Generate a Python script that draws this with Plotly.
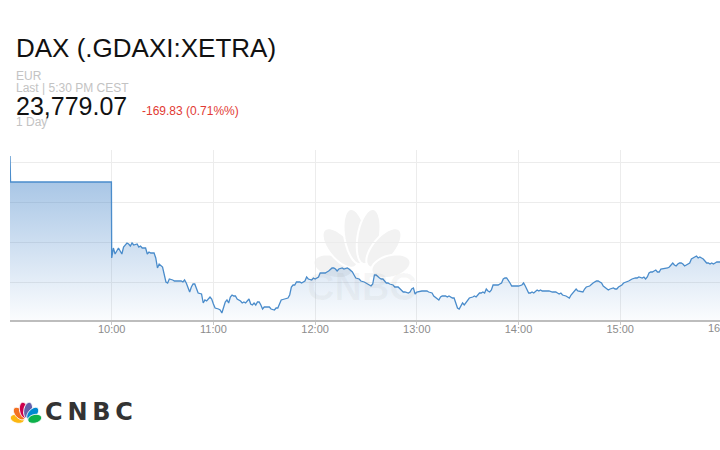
import numpy as np
import plotly.graph_objects as go

DATE = "2025-07-30"

times = [
    "09:00:00", "09:00:20", "09:59:50",
    "10:00", "10:01", "10:02", "10:04", "10:05", "10:06", "10:07", "10:09", "10:10", "10:11",
    "10:12", "10:13", "10:15", "10:16", "10:17", "10:18", "10:20", "10:21", "10:22", "10:23",
    "10:25", "10:26", "10:27", "10:28", "10:30", "10:31", "10:32", "10:33", "10:34", "10:36",
    "10:37", "10:39", "10:41", "10:42", "10:43", "10:44", "10:45", "10:46", "10:47", "10:48",
    "10:49", "10:50", "10:51", "10:53", "10:54", "10:55", "10:56", "10:58", "10:59",
    "11:00", "11:01", "11:03", "11:04", "11:05", "11:06", "11:07", "11:08", "11:09", "11:10",
    "11:11", "11:12", "11:13", "11:14", "11:16", "11:17", "11:18", "11:19", "11:20", "11:21",
    "11:22", "11:23", "11:24", "11:25", "11:26", "11:27", "11:28", "11:29", "11:30", "11:31",
    "11:33", "11:34", "11:36", "11:37", "11:38", "11:39", "11:40", "11:42", "11:44", "11:45",
    "11:46", "11:47", "11:48", "11:49", "11:51", "11:52", "11:53", "11:54", "11:55", "11:56",
    "11:58", "11:59",
    "12:00", "12:01", "12:02", "12:03", "12:04", "12:06", "12:07", "12:08", "12:10", "12:11",
    "12:12", "12:13", "12:14", "12:16", "12:17", "12:19", "12:20", "12:22", "12:23", "12:24",
    "12:26", "12:27", "12:29", "12:30", "12:31", "12:33", "12:34", "12:35", "12:36", "12:37",
    "12:38", "12:39", "12:40", "12:41", "12:42", "12:43", "12:44", "12:46", "12:47", "12:49",
    "12:50", "12:52", "12:53", "12:55", "12:56", "12:57", "12:58", "12:59",
    "13:00", "13:02", "13:03", "13:04", "13:06", "13:07", "13:09", "13:10", "13:12", "13:13",
    "13:14", "13:15", "13:17", "13:18", "13:19", "13:21", "13:22", "13:23", "13:24", "13:25",
    "13:26", "13:27", "13:28", "13:29", "13:30", "13:31", "13:33", "13:34", "13:35", "13:36",
    "13:37", "13:38", "13:39", "13:40", "13:41", "13:42", "13:43", "13:44", "13:45", "13:46",
    "13:48", "13:49", "13:50", "13:51", "13:52", "13:53", "13:54", "13:55", "13:56", "13:58",
    "13:59",
    "14:00", "14:02", "14:03", "14:04", "14:05", "14:06", "14:07", "14:08", "14:09", "14:10",
    "14:11", "14:12", "14:13", "14:14", "14:16", "14:18", "14:20", "14:22", "14:23", "14:24",
    "14:25", "14:26", "14:28", "14:30", "14:31", "14:32", "14:33", "14:34", "14:35", "14:37",
    "14:38", "14:39", "14:40", "14:42", "14:43", "14:44", "14:46", "14:47", "14:48", "14:49",
    "14:50", "14:52", "14:53", "14:54", "14:56", "14:57", "14:58", "14:59",
    "15:01", "15:02", "15:04", "15:05", "15:06", "15:07", "15:09", "15:10", "15:11", "15:13",
    "15:14", "15:15", "15:16", "15:17", "15:18", "15:19", "15:20", "15:21", "15:22", "15:23",
    "15:24", "15:25", "15:26", "15:27", "15:28", "15:29", "15:30", "15:31", "15:32", "15:33",
    "15:34", "15:35", "15:36", "15:37", "15:38", "15:39", "15:40", "15:41", "15:42", "15:43",
    "15:44", "15:45", "15:46", "15:47", "15:48", "15:49", "15:50", "15:51", "15:52", "15:53",
    "15:54", "15:55", "15:56", "15:57", "15:58", "15:59",
]

values = [
    24115, 24050, 24050,
    23860, 23885, 23870, 23885, 23877.5, 23870, 23887.5, 23897.5, 23895, 23890,
    23897.5, 23892.5, 23895, 23887.5, 23890, 23885, 23885, 23870, 23875, 23872.5,
    23872.5, 23860, 23835, 23845, 23837.5, 23817.5, 23800, 23797.5, 23807.5, 23805,
    23802.5, 23802.5, 23802.5, 23800, 23805, 23797.5, 23787.5, 23775, 23787.5, 23795,
    23795, 23785, 23772.5, 23770, 23747.5, 23755, 23752.5, 23762.5, 23757.5,
    23745, 23735, 23732.5, 23730, 23722.5, 23735, 23750, 23755, 23747.5, 23762.5,
    23767.5, 23765, 23765, 23757.5, 23752.5, 23747.5, 23750, 23747.5, 23752.5, 23757.5,
    23745, 23742.5, 23747.5, 23742.5, 23750, 23750, 23742.5, 23732.5, 23737.5, 23737.5,
    23737.5, 23732.5, 23730, 23735, 23735, 23745, 23755, 23757.5, 23760, 23767.5,
    23787.5, 23792.5, 23792.5, 23800, 23800, 23797.5, 23800, 23802.5, 23812.5, 23807.5,
    23805, 23810,
    23807.5, 23810, 23812.5, 23822.5, 23822.5, 23822.5, 23825, 23827.5, 23835, 23835,
    23832.5, 23827.5, 23832.5, 23835, 23832.5, 23835, 23832.5, 23825, 23817.5, 23810,
    23807.5, 23802.5, 23800, 23797.5, 23795, 23790, 23795, 23817.5, 23817.5, 23812.5,
    23810, 23807.5, 23807.5, 23802.5, 23797.5, 23797.5, 23795, 23792.5, 23787.5, 23787.5,
    23782.5, 23775, 23775, 23772.5, 23775, 23782.5, 23785, 23770,
    23775, 23777.5, 23777.5, 23777.5, 23777.5, 23775, 23772.5, 23765, 23757.5, 23755,
    23762.5, 23765, 23765, 23762.5, 23765, 23760, 23760, 23747.5, 23735, 23732.5,
    23740, 23747.5, 23742.5, 23747.5, 23755, 23760, 23762.5, 23765, 23762.5, 23767.5,
    23772.5, 23772.5, 23775, 23772.5, 23782.5, 23777.5, 23775, 23780, 23792.5, 23792.5,
    23792.5, 23795, 23797.5, 23807.5, 23810, 23810, 23805, 23797.5, 23790, 23790,
    23790,
    23790, 23792.5, 23797.5, 23790, 23780, 23772.5, 23772.5, 23775, 23772.5, 23777.5,
    23780, 23777.5, 23780, 23777.5, 23777.5, 23777.5, 23775, 23775, 23772.5, 23770,
    23772.5, 23767.5, 23765, 23760, 23767.5, 23772.5, 23777.5, 23782.5, 23777.5, 23775,
    23775, 23782.5, 23787.5, 23790, 23795, 23797.5, 23802.5, 23802.5, 23800, 23797.5,
    23790, 23782.5, 23780, 23782.5, 23785, 23782.5, 23782.5, 23787.5,
    23792.5, 23797.5, 23800, 23802.5, 23805, 23807.5, 23810, 23810, 23812.5, 23810,
    23812.5, 23807.5, 23812.5, 23822.5, 23825, 23825, 23827.5, 23830, 23825, 23825,
    23832.5, 23833, 23835, 23835, 23835, 23837.5, 23842, 23847.5, 23842.5, 23840,
    23845, 23847.5, 23847.5, 23845, 23840, 23842.5, 23845, 23847.5, 23857.5, 23860,
    23862.5, 23865, 23860, 23862.5, 23860, 23857.5, 23852.5, 23847.5, 23847.5, 23845,
    23847.5, 23845, 23847.5, 23850, 23850, 23850,
]

hour_ticks = ["10:00", "11:00", "12:00", "13:00", "14:00", "15:00"]
partial_tick = "16:00"
grid_levels = [24100, 24000, 23900, 23800]
y_range = [23705, 24130]
x_range = ["09:00:00", "15:58:53"]

title_text = "DAX (.GDAXI:XETRA)"
currency = "EUR"
last_text = "Last | 5:30 PM CEST"
last_price = "23,779.07"
change_text = "-169.83 (0.71%%)"
period_text = "1 Day"

# body margin is reset to 0 by a post script, so figure pixels = page pixels
OFF = 0
W, H = 720, 450
ML, MR, MT = 10, 0, 150
MB = H - 320
PW, PH = W - ML - MR, H - MT - MB


def px(X):
    return (X - OFF - ML) / PW


def py(Y):
    return (H - MB - (Y - OFF)) / PH


def stamp(t):
    return f"{DATE} {t}" + (":00" if len(t) == 5 else "")


x = [stamp(t) for t in times]

fig = go.Figure()
fig.add_trace(go.Scatter(
    x=x, y=values, mode="lines",
    line=dict(color="#4a8ccb", width=1.3),
    fill="tozeroy",
    fillgradient=dict(type="vertical",
                      colorscale=[[0, "rgba(50,120,195,0.02)"], [1, "rgba(50,120,195,0.42)"]],
                      start=y_range[0], stop=24050),
    hoverinfo="skip", showlegend=False,
))

FONT = "Liberation Sans, Arial, sans-serif"


def feather_path(cx, cy, ang_deg, dist, a, b, n=40):
    th = np.deg2rad(ang_deg)
    ux, uy = np.cos(th), -np.sin(th)
    vx, vy = -uy, ux
    ccx, ccy = cx + dist * ux, cy + dist * uy
    t = np.linspace(0, 2 * np.pi, n, endpoint=False)
    pts = [(ccx + a * np.cos(tt) * ux + b * np.sin(tt) * vx,
            ccy + a * np.cos(tt) * uy + b * np.sin(tt) * vy) for tt in t]
    return "M " + " L ".join(f"{px(p[0]):.5f},{py(p[1]):.5f}" for p in pts) + " Z"


shapes = []
# watermark peacock (centre)
for ang, dist, a in [(165, 30, 20), (130, 34, 24), (100, 38, 28), (80, 38, 28), (50, 34, 24), (15, 30, 20)]:
    shapes.append(dict(type="path", xref="paper", yref="paper", layer="below",
                       path=feather_path(362, 274, ang, dist, a, 11),
                       fillcolor="#f2f2f2", line=dict(color="white", width=2)))
# logo peacock (bottom left)
logo_colors = ["#fcb711", "#f37021", "#cc004c", "#6460aa", "#0089d0", "#0db14b"]
for col, ang, dist, a in zip(logo_colors, [166, 132, 101, 79, 48, 14],
                             [9, 10, 11, 11, 10, 9], [7, 7.5, 8, 8, 7.5, 7]):
    shapes.append(dict(type="path", xref="paper", yref="paper",
                       path=feather_path(26, 421, ang, dist, a, 4.3),
                       fillcolor=col, line=dict(color="white", width=1)))

annotations = []


def text(s, X, Y, size, color, anchor="left", bold=False, family=FONT):
    annotations.append(dict(
        text=f"<b>{s}</b>" if bold else s, x=px(X), y=py(Y), xref="paper", yref="paper",
        xanchor=anchor, yanchor="middle", showarrow=False,
        font=dict(family=family, size=size, color=color)))


text(title_text, 14, 48, 26, "#111111")
text(currency, 14, 76, 12, "#c3c3c3")
text(last_text, 14, 88, 12, "#c3c3c3")
text(period_text, 14, 122, 12, "#c3c3c3")
text(last_price, 14, 106, 25, "#111111")
text(change_text, 140, 111, 12, "#e23a33")
text(partial_tick, 722, 328, 11, "#8c8c8c", anchor="center")
text("CNBC", 362, 287, 38, "rgba(120,120,120,0.06)", anchor="center", bold=True)
text("C\u2009N\u2009B\u2009C", 89, 412, 24, "#333333", anchor="center", bold=True,
     family="DejaVu Sans, Liberation Sans, sans-serif")

fig.update_layout(
    width=W, height=H,
    margin=dict(l=ML, r=MR, t=MT, b=MB, pad=0),
    paper_bgcolor="white", plot_bgcolor="white",
    showlegend=False,
    shapes=shapes,
    annotations=annotations,
    xaxis=dict(
        type="date", range=[stamp(x_range[0]), stamp(x_range[1])],
        tickmode="array", tickvals=[stamp(h) for h in hour_ticks], ticktext=hour_ticks,
        showgrid=True, gridcolor="#ececec", gridwidth=1,
        showline=True, linecolor="#bdbdbd", linewidth=1.5,
        ticks="outside", ticklen=3, tickcolor="#c8c8c8",
        ticklabelstandoff=-5,
        tickfont=dict(family=FONT, size=11, color="#8c8c8c"),
        zeroline=False, fixedrange=True,
    ),
    yaxis=dict(
        range=y_range, tickmode="array", tickvals=grid_levels,
        showticklabels=False, showgrid=True, gridcolor="#ececec", gridwidth=1,
        zeroline=False, showline=False, ticks="", fixedrange=True,
    ),
)

fig.write_html(
    "out.html",
    config={"displayModeBar": False},
    post_script="document.body.style.margin='0';document.body.style.overflow='hidden';"
                "document.documentElement.style.overflow='hidden';",
)
